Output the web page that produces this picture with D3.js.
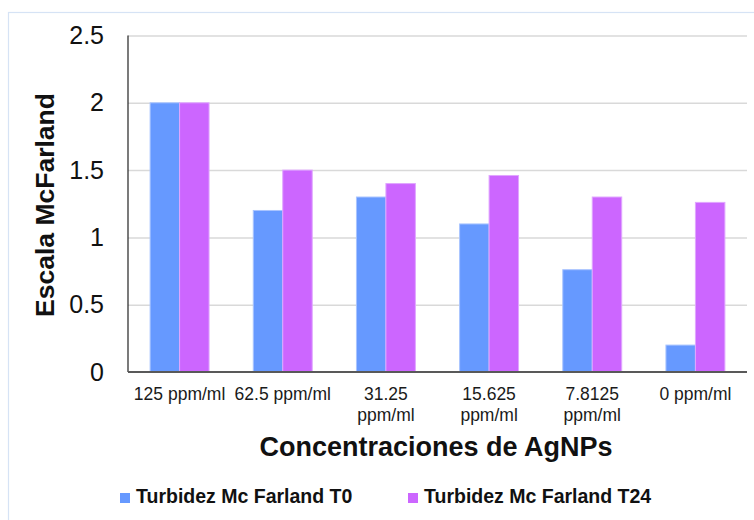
<!DOCTYPE html>
<html>
<head>
<meta charset="utf-8">
<script src="https://cdn.jsdelivr.net/npm/d3@7"></script>
<style>
  html, body { margin: 0; padding: 0; background: #ffffff; }
  svg { display: block; font-family: "Liberation Sans", Arial, sans-serif; }
</style>
</head>
<body>
<svg id="chart" width="754" height="520"></svg>
<script>
// Concentrations tested (x categories)
const categories = ["125 ppm/ml", "62.5 ppm/ml", "31.25 ppm/ml", "15.625 ppm/ml", "7.8125 ppm/ml", "0 ppm/ml"];
// Tick label lines as they wrap under each group
const categoryLines = [["125 ppm/ml"], ["62.5 ppm/ml"], ["31.25", "ppm/ml"], ["15.625", "ppm/ml"], ["7.8125", "ppm/ml"], ["0 ppm/ml"]];
// Series names
const seriesNames = ["Turbidez Mc Farland T0", "Turbidez Mc Farland T24"];
// McFarland turbidity at T0 and after 24 h
const valuesT0 = [2.0, 1.2, 1.3, 1.1, 0.76, 0.2];
const valuesT24 = [2.0, 1.5, 1.4, 1.46, 1.3, 1.26];
// Y axis ticks
const yTicks = [0, 0.5, 1, 1.5, 2, 2.5];
const yTickLabels = ["0", "0.5", "1", "1.5", "2", "2.5"];

const colors = ["#6699ff", "#cc66ff"];
const edgeColors = ["#a9c4ff", "#e0a6ff"];

const svg = d3.select("#chart");

// outer chart-area frame
svg.append("rect")
  .attr("x", 8.5).attr("y", 12.5)
  .attr("width", 760).attr("height", 520)
  .attr("fill", "none")
  .attr("stroke", "#d6e3f5")
  .attr("stroke-width", 1.2);

const plot = { left: 128, right: 747, top: 35.5, bottom: 372 };

const x0 = d3.scaleBand().domain(categories).range([plot.left, plot.right]).paddingInner(0).paddingOuter(0);
const x1 = d3.scaleBand().domain(seriesNames).range([0, x0.bandwidth()]).paddingInner(0).paddingOuter(0.75);
const y = d3.scaleLinear().domain([0, 2.5]).range([plot.bottom, plot.top]);

// horizontal gridlines
const grid = svg.append("g")
  .attr("transform", `translate(${plot.left},0)`)
  .call(d3.axisLeft(y).tickValues(yTicks.filter(t => t > 0)).tickSize(-(plot.right - plot.left)).tickFormat(""));
grid.select(".domain").remove();
grid.selectAll("line").attr("stroke", "#d9d9d9").attr("stroke-width", 1.5);

// y tick labels
const yAxis = svg.append("g")
  .attr("transform", `translate(${plot.left},0)`)
  .call(d3.axisLeft(y).tickValues(yTicks).tickSize(0).tickPadding(24).tickFormat((d, i) => yTickLabels[i]));
yAxis.select(".domain").remove();
yAxis.selectAll("text")
  .attr("font-size", 25)
  .attr("fill", "#111111")
  .attr("font-family", "Liberation Sans, Arial, sans-serif");

// vertical axis line
svg.append("line")
  .attr("x1", plot.left).attr("x2", plot.left)
  .attr("y1", y(2.5)).attr("y2", plot.bottom)
  .attr("stroke", "#222222").attr("stroke-width", 1.2);

// bars
const series = [valuesT0, valuesT24];
const groups = svg.append("g").selectAll("g")
  .data(categories)
  .join("g")
  .attr("transform", d => `translate(${x0(d)},0)`);

groups.selectAll("rect")
  .data((d, i) => seriesNames.map((s, j) => ({ s, j, v: series[j][i] })))
  .join("rect")
  .attr("x", d => x1(d.s))
  .attr("y", d => y(d.v))
  .attr("width", x1.bandwidth())
  .attr("height", d => y(0) - y(d.v))
  .attr("fill", d => colors[d.j])
  .attr("stroke", d => edgeColors[d.j])
  .attr("stroke-width", 1);

// x axis baseline
svg.append("line")
  .attr("x1", plot.left).attr("x2", plot.right)
  .attr("y1", plot.bottom).attr("y2", plot.bottom)
  .attr("stroke", "#595959").attr("stroke-width", 2);

// x tick labels (wrapped)
const xAxis = svg.append("g")
  .attr("transform", `translate(0,${plot.bottom})`)
  .call(d3.axisBottom(x0).tickSize(0).tickFormat(""));
xAxis.select(".domain").remove();
xAxis.selectAll(".tick").each(function (d, i) {
  const t = d3.select(this).append("text")
    .attr("fill", "#1a1a1a")
    .attr("font-size", 17.5)
    .attr("text-anchor", "middle")
    .attr("font-family", "Liberation Sans, Arial, sans-serif");
  categoryLines[i].forEach((line, k) => {
    t.append("tspan").attr("x", 0).attr("y", 28 + k * 21).text(line);
  });
});

// axis titles
svg.append("text")
  .attr("x", 436)
  .attr("y", 456)
  .attr("text-anchor", "middle")
  .attr("font-size", 27)
  .attr("font-weight", "bold")
  .attr("fill", "#111111")
  .text("Concentraciones de AgNPs");

svg.append("text")
  .attr("transform", "translate(54,205) rotate(-90)")
  .attr("text-anchor", "middle")
  .attr("font-size", 26.5)
  .attr("font-weight", "bold")
  .attr("fill", "#111111")
  .text("Escala McFarland");

// legend
const legendX = [120, 408];
const legend = svg.append("g").selectAll("g")
  .data(seriesNames)
  .join("g")
  .attr("transform", (d, i) => `translate(${legendX[i]},493)`);
legend.append("rect")
  .attr("width", 10).attr("height", 10)
  .attr("fill", (d, i) => colors[i]);
legend.append("text")
  .attr("x", 16).attr("y", 10)
  .attr("font-size", 19.5)
  .attr("font-weight", "bold")
  .attr("fill", "#111111")
  .text(d => d);
</script>
</body>
</html>
